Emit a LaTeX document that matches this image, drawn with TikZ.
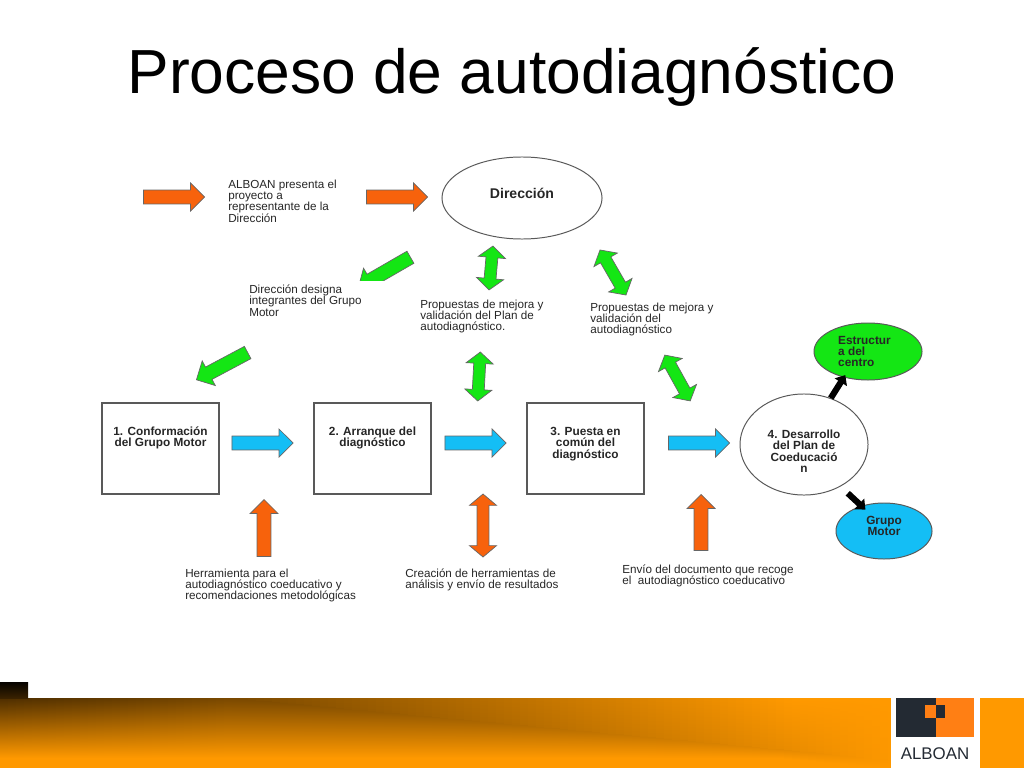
\documentclass[tikz,border=0pt]{standalone}
\usepackage{fontspec}
\setmainfont{Liberation Sans}
\usetikzlibrary{shapes.geometric,shapes.arrows,arrows.meta}

\definecolor{bandorange}{HTML}{FF9900}
\definecolor{banddark}{HTML}{3A2200}
\definecolor{arroworange}{HTML}{F7620C}
\definecolor{arrowgreen}{HTML}{14E614}
\definecolor{arrowcyan}{HTML}{14BEF5}
\definecolor{logodark}{HTML}{232A33}
\definecolor{logoorange}{HTML}{FF7F14}

\tikzset{
  lbl/.style={anchor=north west,align=left,inner sep=0pt,font=\fontsize{8.3}{7.9}\selectfont,text=black!85},
  boldlbl/.style={align=center,inner sep=0pt,font=\fontsize{8.4}{8.1}\selectfont\bfseries,text=black!85},
  stagebox/.style={boldlbl,draw=black!65,line width=0.8pt,minimum width=2.925cm,minimum height=2.275cm},
  oval/.style={boldlbl,draw=black!65,line width=0.7pt,ellipse},
  blockarrow/.style={single arrow,anchor=tip,draw=black!60,line width=0.5pt,inner xsep=0pt,inner ysep=0.165cm,
    single arrow head extend=0.175cm,minimum height=#1},
  bothways/.style={double arrow,draw=black!60,line width=0.5pt,inner xsep=0pt,inner ysep=0.14cm,
    double arrow head extend=0.19cm,double arrow tip angle=100,minimum height=#1},
  fatline/.style={line width=4.4pt,-{Triangle[width=10pt,length=6pt]}}
}

\begin{document}
\begin{tikzpicture}[x=0.025cm,y=-0.025cm]
\useasboundingbox (0,0) rectangle (1024,768);

% bottom band
\fill[bandorange] (0,698) rectangle (1024,768);
\foreach \bx [evaluate=\bx as \ridge using {698+max(0,\bx-223)*0.094},
              evaluate=\bx as \bandend using {max(758,\ridge+8)},
              evaluate=\bx as \midmix using {min(100,10+\bx*0.1)},
              evaluate=\bx as \topmix using {min(100,\midmix+max(0,\bx-223)*0.02)}] in {0,8,...,888}{
  \shade[top color=bandorange!\topmix!banddark,bottom color=bandorange!\midmix!banddark]
    (\bx,698) rectangle (\bx+8.4,\ridge);
  \shade[top color=bandorange!\midmix!banddark,bottom color=bandorange]
    (\bx,\ridge) rectangle (\bx+8.4,\bandend);
}
\shade[top color=black!90!banddark,bottom color=banddark] (0,682) rectangle (28,698);

% logo
\fill[white] (891,698) rectangle (980,768);
\fill[logodark] (896,698) rectangle (936,737);
\fill[logoorange] (936,698) rectangle (974,737);
\fill[logoorange] (925,705) rectangle (936,718);
\fill[logodark] (936,705) rectangle (945,718);
\node[inner sep=0pt,text=logodark,font=\fontsize{12}{12}\selectfont] (logotext) at (935,754) {ALBOAN};

\node[inner sep=0pt,font=\fontsize{44.3}{50}\selectfont] (title) at (512,77) {Proceso de autodiagn\'ostico};

% stages
\node[stagebox,text depth=0.6cm] (box1) at (160.5,448.5) {1. Conformaci\'on\\del Grupo Motor};
\node[stagebox,text depth=0.6cm] (box2) at (372.5,448.5) {2. Arranque del\\diagn\'ostico};
\node[stagebox,text depth=0.3cm] (box3) at (585.5,448.5) {3. Puesta en\\com\'un del\\diagn\'ostico};
\node[oval,minimum width=3.2cm,minimum height=2.525cm,fill=white,text height=1.4cm] (plan4) at (804,444.5) {4. Desarrollo\\del Plan de\\Coeducaci\'o\\n};
\node[oval,minimum width=4cm,minimum height=2.05cm,font=\fontsize{10}{10}\selectfont\bfseries,text depth=0.25cm] (direccion) at (522,198) {Direcci\'on};
\node[oval,minimum width=2.7cm,minimum height=1.425cm,fill=arrowgreen,align=left] (estructura) at (868,351.5) {Estructur\hspace*{5pt}\\a del\\centro};
\node[oval,minimum width=2.4cm,minimum height=1.4cm,fill=arrowcyan,text depth=0.25cm] (grupo) at (884,531) {Grupo\\Motor};

\draw[fatline,shorten >=-2pt] (plan4.60) -- (estructura.227);
\draw[fatline,shorten <=7pt,shorten >=-4pt] (plan4.-49) -- (grupo.132);

% labels
\node[lbl] (txt1) at (228,180) {ALBOAN presenta el\\proyecto a\\representante de la\\Direcci\'on};
\node[lbl] (txt2) at (249,285) {Direcci\'on designa\\integrantes del Grupo\\Motor};
\node[lbl] (txt3) at (420,300) {Propuestas de mejora y\\validaci\'on del Plan de\\autodiagn\'ostico.};
\node[lbl] (txt4) at (590,303) {Propuestas de mejora y\\validaci\'on del\\autodiagn\'ostico};
\node[lbl] (txt5) at (185,569) {Herramienta para el\\autodiagn\'ostico coeducativo y\\recomendaciones metodol\'ogicas};
\node[lbl] (txt6) at (405,569) {Creaci\'on de herramientas de\\an\'alisis y env\'io de resultados};
\node[lbl] (txt7) at (622,565) {Env\'io del documento que recoge\\el\ \ autodiagn\'ostico coeducativo};

% orange arrows
\node[blockarrow=1.525cm,fill=arroworange] (ar1) at (205,197) {};
\node[blockarrow=1.525cm,fill=arroworange] (ar2) at (428,197) {};
\node[blockarrow=1.425cm,fill=arroworange,rotate=90] (ar3) at (264,499) {};
\node[bothways=1.575cm,fill=arroworange,rotate=90] (ar4) at (483,525.5) {};
\node[blockarrow=1.4cm,fill=arroworange,rotate=90] (ar5) at (701,494) {};

% cyan arrows
\node[blockarrow=1.525cm,fill=arrowcyan] (ar6) at (293.5,443) {};
\node[blockarrow=1.525cm,fill=arrowcyan] (ar7) at (506.5,443) {};
\node[blockarrow=1.525cm,fill=arrowcyan] (ar8) at (730,443) {};

% green arrows
\begin{scope}
\clip (340,240) rectangle (430,280);
\node[blockarrow=1.5cm,fill=arrowgreen,rotate=210] (ar9) at (358,287.5) {};
\end{scope}
\node[blockarrow=1.45cm,fill=arrowgreen,rotate=208] (ar10) at (196,380) {};
\node[bothways=1.1cm,fill=arrowgreen,rotate=85] (ar11) at (491,268) {};
\node[bothways=1.225cm,fill=arrowgreen,rotate=87] (ar12) at (479,376.5) {};
\node[bothways=1.3cm,fill=arrowgreen,rotate=-60] (ar13) at (613,272.5) {};
\node[bothways=1.31cm,fill=arrowgreen,rotate=-61] (ar14) at (677.5,378) {};
\end{tikzpicture}
\end{document}
